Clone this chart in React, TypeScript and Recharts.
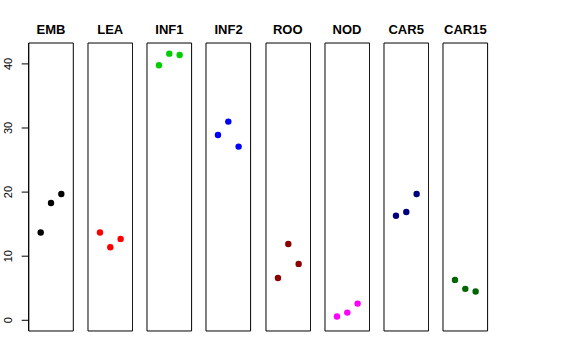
import { ScatterChart, Scatter, XAxis, YAxis, ReferenceArea } from 'recharts';

const PANELS = ['EMB', 'LEA', 'INF1', 'INF2', 'ROO', 'NOD', 'CAR5', 'CAR15'];
const COLORS = ['#000000', '#FF0000', '#00CD00', '#0000FF', '#8B0000', '#FF00FF', '#000080', '#006400'];
const X_POS = [1, 2, 3];

const EMB = [13.7, 18.3, 19.7];
const LEA = [13.7, 11.4, 12.7];
const INF1 = [39.8, 41.6, 41.4];
const INF2 = [28.9, 31.0, 27.1];
const ROO = [6.6, 11.9, 8.8];
const NOD = [0.6, 1.2, 2.6];
const CAR5 = [16.3, 16.9, 19.7];
const CAR15 = [6.3, 4.9, 4.5];

const SERIES = [EMB, LEA, INF1, INF2, ROO, NOD, CAR5, CAR15];
const Y_TICKS = [0, 10, 20, 30, 40];

const X_DOMAIN: [number, number] = [-0.16, 4.16];
const Y_DOMAIN: [number, number] = [-1.67, 43.26];

const FIRST_LEFT = 28.7;
const STEP = 59.2;
const PANEL_W = 44.6;
const PANEL_TOP = 43;
const PANEL_H = 288;

const font = '"Liberation Sans", Arial, Helvetica, sans-serif';

const YTick = (props: any) => {
  const { x, y, payload } = props;
  const bx = x - 10;
  return (
    <text
      x={bx}
      y={y}
      transform={`rotate(-90, ${bx}, ${y})`}
      textAnchor="middle"
      fontSize={11}
      fontFamily={font}
      fill="#000"
    >
      {payload.value}
    </text>
  );
};

function Panel({ i }: { i: number }) {
  const first = i === 0;
  const panelLeft = FIRST_LEFT + STEP * i;
  const data = X_POS.map((x, k) => ({ x, y: SERIES[i][k] }));
  const color = COLORS[i];
  const chartLeft = first ? 0 : panelLeft - 1;
  const width = first ? panelLeft + PANEL_W + 1 : PANEL_W + 2;

  return (
    <>
      <div
        style={{
          position: 'absolute',
          left: panelLeft - 20,
          width: PANEL_W + 40,
          top: 22,
          height: 16,
          lineHeight: '16px',
          textAlign: 'center',
          fontFamily: font,
          fontWeight: 'bold',
          fontSize: 13,
          color: '#000',
        }}
      >
        {PANELS[i]}
      </div>
      <div style={{ position: 'absolute', left: chartLeft, top: PANEL_TOP - 1 }}>
        <ScatterChart
          width={width}
          height={PANEL_H + 2}
          margin={{ top: 1, right: 1, bottom: 1, left: first ? 0 : 1 }}
        >
          <XAxis type="number" dataKey="x" domain={X_DOMAIN} allowDataOverflow hide />
          <YAxis
            type="number"
            dataKey="y"
            domain={Y_DOMAIN}
            ticks={Y_TICKS}
            allowDataOverflow
            hide={!first}
            width={panelLeft}
            tickSize={7}
            tickMargin={0}
            tick={<YTick />}
            axisLine={{ stroke: '#000' }}
            tickLine={{ stroke: '#000' }}
          />
          <ReferenceArea
            x1={X_DOMAIN[0]}
            x2={X_DOMAIN[1]}
            y1={Y_DOMAIN[0]}
            y2={Y_DOMAIN[1]}
            fill="none"
            fillOpacity={0}
            stroke="#000"
            strokeWidth={1}
            ifOverflow="visible"
          />
          <Scatter
            data={data}
            isAnimationActive={false}
            shape={(p: any) => <circle cx={p.cx} cy={p.cy} r={3.2} fill={color} />}
          />
        </ScatterChart>
      </div>
    </>
  );
}

export default function App() {
  return (
    <div style={{ position: 'absolute', left: 0, top: 0, width: 576, height: 360, background: '#fff' }}>
      {PANELS.map((_, i) => (
        <Panel key={i} i={i} />
      ))}
    </div>
  );
}
